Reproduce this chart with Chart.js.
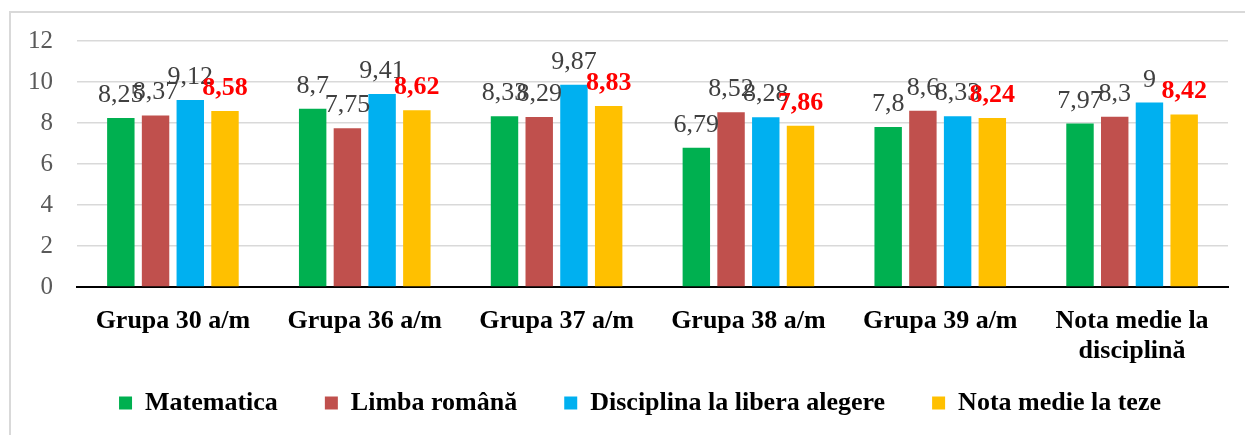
<!DOCTYPE html>
<html>
<head>
<meta charset="utf-8">
<script src="https://cdn.jsdelivr.net/npm/chart.js@4/dist/chart.umd.min.js"></script>
<style>
  html, body { margin: 0; padding: 0; background: #fff; }
  #frame { position: absolute; left: 9px; top: 11px; width: 1300px; height: 500px;
           border-left: 2px solid #d9d9d9; border-top: 2px solid #d9d9d9; }
  #wrap { position: absolute; left: 0; top: 0; width: 1245px; height: 435px; }
</style>
</head>
<body>
<div id="frame"></div>
<div id="wrap"><canvas id="c"></canvas></div>
<script>
const categories = ['Grupa 30 a/m', 'Grupa 36 a/m', 'Grupa 37 a/m', 'Grupa 38 a/m', 'Grupa 39 a/m', ['Nota medie la', 'disciplină']];
const seriesNames = ['Matematica', 'Limba română', 'Disciplina la libera alegere', 'Nota medie la teze'];
const matematica = [8.25, 8.7, 8.33, 6.79, 7.8, 7.97];
const limbaRomana = [8.37, 7.75, 8.29, 8.52, 8.6, 8.3];
const disciplinaLibera = [9.12, 9.41, 9.87, 8.28, 8.33, 9];
const notaMedieTeze = [8.58, 8.62, 8.83, 7.86, 8.24, 8.42];
const yTicks = [0, 2, 4, 6, 8, 10, 12];

const colors = ['#00B050', '#C0504D', '#00B0F0', '#FFC000'];
const SERIF = '"Liberation Serif", "Times New Roman", serif';

const valueLabels = {
  id: 'valueLabels',
  afterDatasetsDraw(chart) {
    const ctx = chart.ctx;
    chart.data.datasets.forEach((ds, di) => {
      const meta = chart.getDatasetMeta(di);
      const last = di === chart.data.datasets.length - 1;
      ctx.save();
      ctx.font = (last ? 'bold ' : '') + '26px ' + SERIF;
      ctx.fillStyle = last ? '#FF0000' : '#404040';
      ctx.textAlign = 'center';
      ctx.textBaseline = 'alphabetic';
      meta.data.forEach((el, i) => {
        const txt = String(ds.data[i]).replace('.', ',');
        ctx.fillText(txt, el.x, el.y - 16);
      });
      ctx.restore();
    });
  }
};

const shiftLegend = {
  id: 'shiftLegend',
  afterLayout(chart) {
    const lg = chart.legend;
    if (lg) {
      lg.left += 16; lg.right += 16;
      lg.top -= 29;
    }
  }
};

new Chart(document.getElementById('c'), {
  type: 'bar',
  data: {
    labels: categories,
    datasets: [matematica, limbaRomana, disciplinaLibera, notaMedieTeze].map((d, i) => ({
      label: seriesNames[i],
      data: d,
      backgroundColor: colors[i],
      borderWidth: 0,
      categoryPercentage: 0.724,
      barPercentage: 0.79
    }))
  },
  options: {
    responsive: true,
    maintainAspectRatio: false,
    animation: false,
    layout: { padding: { left: 20, right: 17, top: 41, bottom: 0 } },
    plugins: {
      tooltip: { enabled: false },
      legend: {
        position: 'bottom',
        maxHeight: 63,
        labels: {
          boxWidth: 13, boxHeight: 13, padding: 47,
          color: '#000',
          font: { family: SERIF, size: 26, weight: 'bold' }
        }
      }
    },
    scales: {
      x: {
        grid: { display: false, drawTicks: false },
        border: { display: true, color: '#000', width: 2 },
        ticks: {
          color: '#000', padding: 19, maxRotation: 0, autoSkip: false,
          font: { family: SERIF, size: 26, weight: 'bold', lineHeight: 1.15 }
        },
        afterFit(s) { s.height = 85; }
      },
      y: {
        min: 0, max: 12,
        afterBuildTicks(s) { s.ticks = yTicks.map(v => ({ value: v })); },
        grid: { color: '#d9d9d9', lineWidth: 1.5, drawTicks: false },
        border: { display: false },
        ticks: {
          color: '#595959', padding: 24,
          font: { family: SERIF, size: 25 }
        },
        afterFit(s) { s.width = 57; }
      }
    }
  },
  plugins: [valueLabels, shiftLegend]
});
</script>
</body>
</html>
